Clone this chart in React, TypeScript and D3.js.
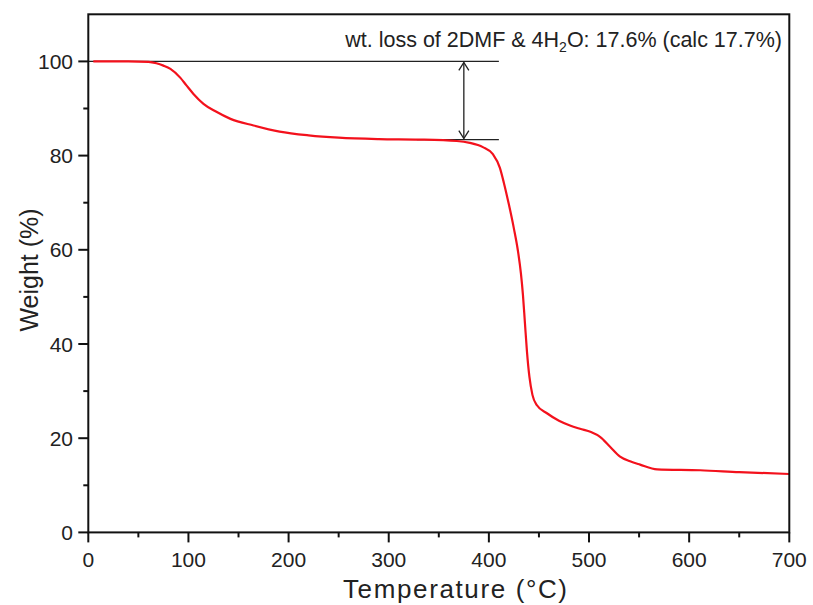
import React from "react";
import * as d3 from "d3";

const temps = [5, 40, 60, 68, 75, 82, 92, 98, 105, 115, 127, 142, 165, 191, 220, 250, 290, 330, 368, 381, 394, 404, 411, 415, 420, 425, 429, 432, 434, 436, 438, 440.5, 443.5, 448, 458, 470, 481, 491, 502, 511, 521, 531, 541, 551, 568, 611, 650, 700];
const weights = [100, 100, 99.9, 99.6, 99.1, 98.4, 96.5, 94.9, 93.1, 91.0, 89.4, 87.8, 86.4, 85.1, 84.3, 83.8, 83.5, 83.4, 83.1, 82.7, 81.8, 80.3, 77.4, 74.2, 69.6, 64.5, 59.8, 55.0, 50.5, 44.5, 38.5, 33.0, 29.2, 27.0, 25.3, 23.7, 22.7, 22.0, 21.3, 20.3, 18.2, 16.1, 15.1, 14.4, 13.4, 13.2, 12.8, 12.4];

const xTicks = [0, 100, 200, 300, 400, 500, 600, 700];
const yTicks = [0, 20, 40, 60, 80, 100];
const xMinor = [50, 150, 250, 350, 450, 550, 650];
const yMinor = [10, 30, 50, 70, 90];

// annotation: upper level, lower level, bracket extents, arrow position
const annUpper = 100;
const annLower = 83.4;
const annLineStart = [0, 328];
const annLineEnd = 410;
const annArrowX = 375;

const W = 813, H = 605;
const L = 88.3, R = 789.3, T = 14.3, B = 532.4;

export default function App() {
  const x = d3.scaleLinear().domain([0, 700]).range([L, R]);
  const y = d3.scaleLinear().domain([0, 110]).range([B, T]);
  const pts = temps.map((t, i) => [t, weights[i]] as [number, number]);
  const line = d3.line<[number, number]>().x(d => x(d[0])).y(d => y(d[1])).curve(d3.curveMonotoneX);
  const font = "'Liberation Sans', Arial, sans-serif";
  const ax = x(annArrowX);
  const yu = y(annUpper), yl = y(annLower);
  const ah = 9, aw = 5;
  return (
    <svg width={W} height={H} style={{ position: "absolute", left: 0, top: 0, background: "#fff" }} fontFamily={font}>
      <rect x={0} y={0} width={W} height={H} fill="#fff" />
      {/* annotation lines */}
      <line x1={x(annLineStart[0])} x2={x(annLineEnd)} y1={yu} y2={yu} stroke="#222" strokeWidth={1.3} />
      <line x1={x(annLineStart[1])} x2={x(annLineEnd)} y1={yl} y2={yl} stroke="#222" strokeWidth={1.3} />
      <line x1={ax} x2={ax} y1={yu + 1} y2={yl - 1} stroke="#222" strokeWidth={1.3} />
      <path d={`M${ax - aw},${yu + ah} L${ax},${yu + 1} L${ax + aw},${yu + ah}`} fill="none" stroke="#222" strokeWidth={1.3} />
      <path d={`M${ax - aw},${yl - ah} L${ax},${yl - 1} L${ax + aw},${yl - ah}`} fill="none" stroke="#222" strokeWidth={1.3} />
      {/* curve */}
      <path d={line(pts) || ""} fill="none" stroke="#f3111c" strokeWidth={2.2} />
      {/* frame */}
      <rect x={L} y={T} width={R - L} height={B - T} fill="none" stroke="#111" strokeWidth={2} />
      {/* ticks */}
      {xTicks.map(t => (
        <g key={"x" + t}>
          <line x1={x(t)} x2={x(t)} y1={B} y2={B + 10} stroke="#111" strokeWidth={2} />
          <text x={x(t)} y={567} textAnchor="middle" fontSize={21} fill="#222">{t}</text>
        </g>
      ))}
      {xMinor.map(t => (
        <line key={"xm" + t} x1={x(t)} x2={x(t)} y1={B} y2={B + 5} stroke="#111" strokeWidth={2} />
      ))}
      {yTicks.map(t => (
        <g key={"y" + t}>
          <line x1={L - 10} x2={L} y1={y(t)} y2={y(t)} stroke="#111" strokeWidth={2} />
          <text x={73} y={y(t) + 7.5} textAnchor="end" fontSize={21} fill="#222">{t}</text>
        </g>
      ))}
      {yMinor.map(t => (
        <line key={"ym" + t} x1={L - 5} x2={L} y1={y(t)} y2={y(t)} stroke="#111" strokeWidth={2} />
      ))}
      {/* axis titles */}
      <text x={455} y={598} textAnchor="middle" fontSize={26} fill="#222" textLength={224} lengthAdjust="spacing">Temperature (°C)</text>
      <text transform={`translate(38,270) rotate(-90)`} textAnchor="middle" fontSize={25} fill="#222">Weight (%)</text>
      {/* annotation text */}
      <text x={782} y={47} textAnchor="end" fontSize={21.5} fill="#222">
        wt. loss of 2DMF &amp; 4H<tspan fontSize={14} dy={5}>2</tspan><tspan dy={-5}>O: 17.6% (calc 17.7%)</tspan>
      </text>
    </svg>
  );
}
